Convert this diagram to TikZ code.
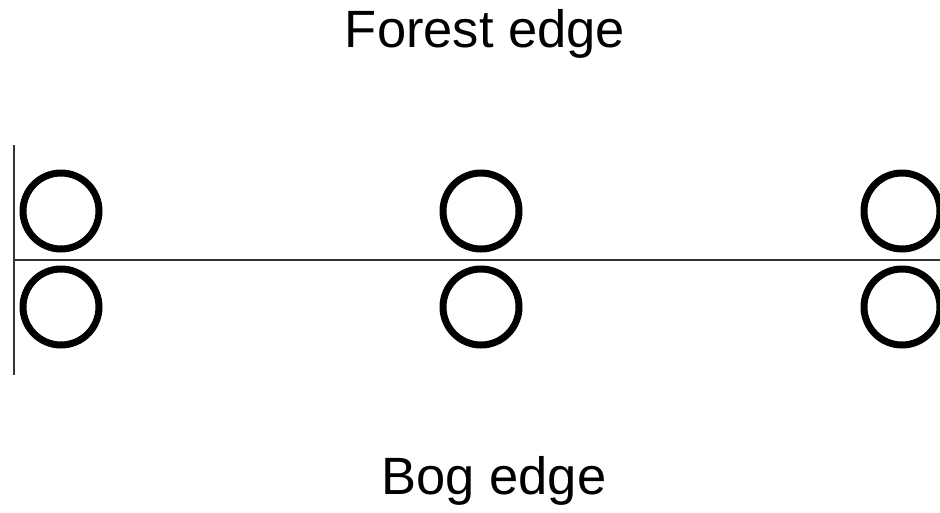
\documentclass[tikz,border=0pt]{standalone}
\usepackage{fontspec}
\setmainfont{Liberation Sans}
\begin{document}
\begin{tikzpicture}[x=1pt,y=-1pt,
  ring/.style={circle,draw=black,line width=7pt,minimum size=76pt,inner sep=0pt},
  thinline/.style={draw=black!80,line width=1.4pt},
  label/.style={anchor=base,inner sep=0pt,font=\fontsize{52.5pt}{60pt}\selectfont}]
\useasboundingbox (0,0) rectangle (940,512);
\node[label] (forest) at (485,47) {Forest edge};
\node[label] (bog) at (494,494) {Bog edge};
\coordinate (vtop) at (14,145);
\coordinate (vbot) at (14,375);
\coordinate (hleft) at (14,260);
\coordinate (hright) at (940,260);
\draw[thinline] (vtop) -- (vbot);
\draw[thinline] (hleft) -- (hright);
\node[ring] (c1) at (61,211) {};
\node[ring] (c2) at (481,211) {};
\node[ring] (c3) at (902,211) {};
\node[ring] (c4) at (61,307) {};
\node[ring] (c5) at (481,307) {};
\node[ring] (c6) at (902,307) {};
\end{tikzpicture}
\end{document}
